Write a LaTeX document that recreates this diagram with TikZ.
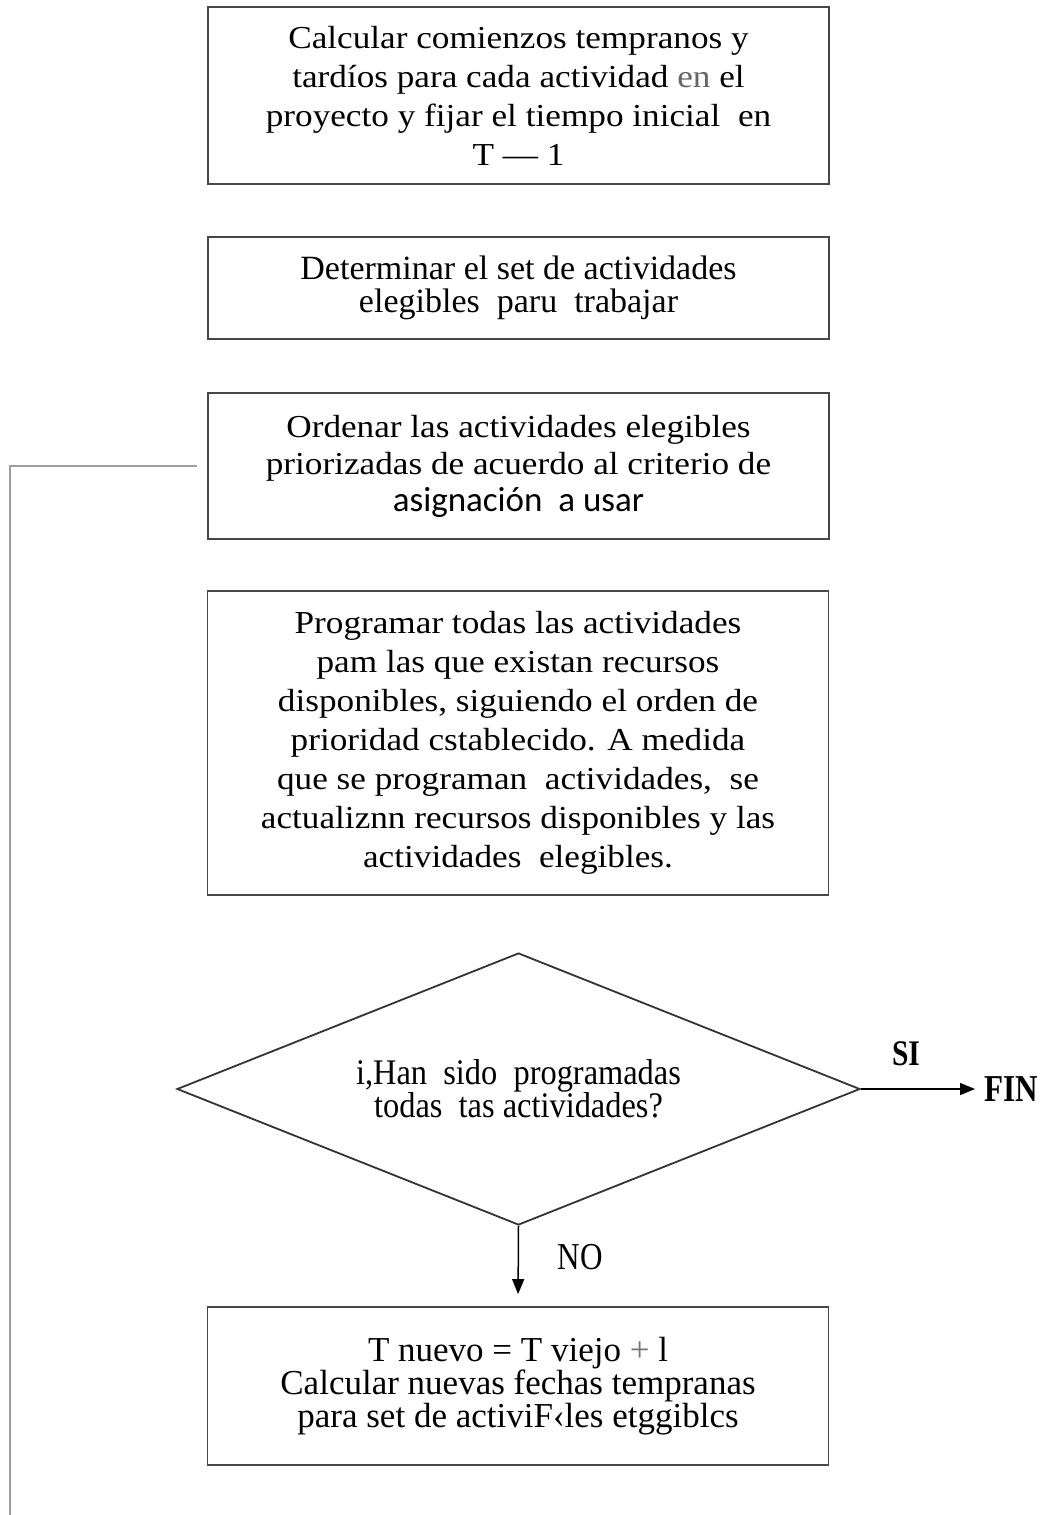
\documentclass[tikz,border=0pt]{standalone}
\usepackage{fontspec}
\setmainfont{Liberation Serif}
\newfontfamily\camfont[FakeStretch=1.1]{Liberation Serif}
\newfontfamily\slimfont[FakeStretch=0.9]{Liberation Serif}
\newfontfamily\narrowfont[FakeStretch=0.82]{Liberation Serif}
\newfontfamily\califont{Carlito}
\usetikzlibrary{shapes.geometric}
\usetikzlibrary{arrows.meta}

\begin{document}
\begin{tikzpicture}[x=1pt,y=-1pt,
    caja/.style={rectangle,draw=black!72,line width=1.8pt,minimum width=621pt,inner sep=0pt,align=center},
    rombo/.style={diamond,shape aspect=2.5,draw=black!80,line width=1.8pt,minimum width=683pt,minimum height=272pt,inner sep=0pt,align=center},
    flecha/.style={line width=1.5pt,-{Triangle[length=15pt,width=12pt]}},
    retorno/.style={draw=black!38,line width=1.8pt}]

    % page size
    \useasboundingbox (0,0) rectangle (1042,1515);

    % Boxes of the procedure
    \node[caja,minimum height=177pt,font=\camfont\fontsize{32}{39}\selectfont] (calcular) at (518.5,95.5)
        {Calcular comienzos tempranos y\\ tardíos para cada actividad \textcolor{black!60}{en} el\\ proyecto y fijar el tiempo inicial\ \ en\\ T — 1};
    \node[caja,minimum height=102pt,font=\fontsize{34}{33}\selectfont] (elegibles) at (518.5,288)
        {Determinar\ el\ set\ de\ actividades\\ elegibles\ \ paru\ \ trabajar};
    \node[caja,minimum height=146pt,font=\camfont\fontsize{32}{37}\selectfont] (ordenar) at (518.5,466)
        {Ordenar las actividades elegibles\\ priorizadas de acuerdo al criterio de\\ {\califont\fontsize{35}{37}\selectfont asignación\ \ a usar}};
    \node[caja,minimum height=304pt,font=\camfont\fontsize{32}{39}\selectfont] (programar) at (518,743)
        {Programar todas las actividades\\ pam las que existan recursos\\ disponibles, siguiendo el orden de\\ prioridad cstablecido. A medida\\ que se programan\ \ actividades,\ \ se\\ actualiznn recursos disponibles y las\\ actividades\ \ elegibles.};

    % Decision
    \node[rombo,font=\slimfont\fontsize{36}{33}\selectfont] (pregunta) at (518.5,1089)
        {i,Han\ \ sido\ \ programadas\\ todas\ \ tas actividades?};

    \node[caja,minimum height=158pt,font=\fontsize{35}{33}\selectfont] (nuevoT) at (518,1386)
        {T nuevo = T viejo \textcolor{black!55}{+} l\\ Calcular nuevas fechas tempranas\\ para set de activiF‹les etggiblcs};

    % Exits of the decision
    \node[anchor=west,inner xsep=9pt,inner ysep=0pt,font=\narrowfont\bfseries\fontsize{38}{38}\selectfont] (fin) at (975,1089) {FIN};
    \node[font=\narrowfont\bfseries\fontsize{36}{36}\selectfont] (si) at (906,1054) {SI};
    \node[font=\narrowfont\fontsize{38}{38}\selectfont] (no) at (580,1257) {NO};

    \draw[flecha] (pregunta.east) -- (fin.west);
    \draw[flecha,shorten >=12pt] (pregunta.south) -- (nuevoT.north);

    % Return line on the left
    \coordinate (lazo) at (10,1515);
    \draw[retorno,shorten >=10pt] (lazo) |- (ordenar.west);

\end{tikzpicture}
\end{document}
